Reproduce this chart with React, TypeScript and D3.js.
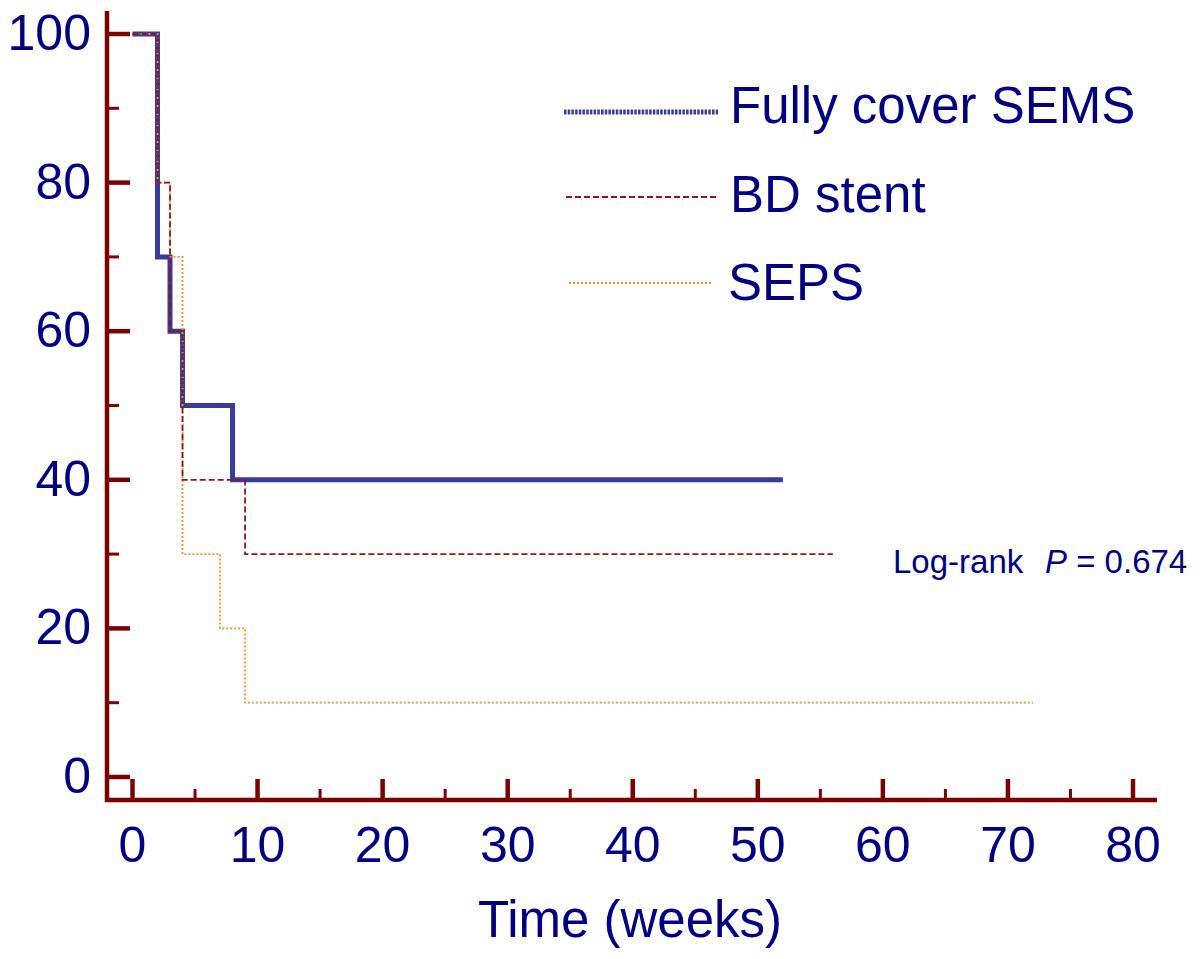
import React from "react";
import * as d3 from "d3";

const xTicksMajor = [0, 10, 20, 30, 40, 50, 60, 70, 80];
const xTicksMinor = [5, 15, 25, 35, 45, 55, 65, 75];
const yTicksMajor = [0, 20, 40, 60, 80, 100];
const yTicksMinor = [10, 30, 50, 70, 90];

const semsTimes = [0, 2, 3, 4, 8, 52];
const semsSurv = [100, 70, 60, 50, 40, 40];
const bdTimes = [0, 2, 3, 4, 9, 56];
const bdSurv = [100, 80, 60, 40, 30, 30];
const sepsTimes = [0, 2, 3, 4, 7, 9, 72];
const sepsSurv = [100, 80, 70, 30, 20, 10, 10];

const seriesNames = ["Fully cover SEMS", "BD stent", "SEPS"];

const AXIS = "#7b0000";
const NAVY = "#000080";
const BLUE = "#3a3a9a";
const MAROON = "#8b1a1a";
const ORANGE = "#f39030";
const FONT = "'Liberation Sans', Arial, sans-serif";

export default function App() {
  const x = d3.scaleLinear().domain([0, 80]).range([132.5, 1133]);
  const y = d3.scaleLinear().domain([0, 100]).range([777, 34]);
  const line = d3
    .line<[number, number]>()
    .x((d) => x(d[0]))
    .y((d) => y(d[1]))
    .curve(d3.curveStepAfter);
  const pts = (t: number[], s: number[]) => t.map((v, i) => [v, s[i]] as [number, number]);

  const axisY = 800;
  const axisX = 107;

  return (
    <svg
      width={1200}
      height={959}
      style={{ position: "absolute", left: 0, top: 0, background: "#fff" }}
      fontFamily={FONT}
    >
      <rect width={1200} height={959} fill="#fff" />
      {/* curves */}
      <path d={line(pts(semsTimes, semsSurv)) || ""} fill="none" stroke={BLUE} strokeWidth={5} />
      <path d={line(pts(sepsTimes, sepsSurv)) || ""} fill="none" stroke={ORANGE} strokeWidth={1.8} strokeDasharray="2,2" />
      <path d={line(pts(bdTimes, bdSurv)) || ""} fill="none" stroke={MAROON} strokeWidth={1.8} strokeDasharray="6,3" />

      {/* axes */}
      <line x1={axisX} x2={axisX} y1={11} y2={axisY + 2} stroke={AXIS} strokeWidth={4.5} />
      <line x1={axisX - 2} x2={1157} y1={axisY} y2={axisY} stroke={AXIS} strokeWidth={4.5} />
      {yTicksMajor.map((t) => (
        <g key={"ym" + t}>
          <line x1={axisX} x2={axisX + 23} y1={y(t)} y2={y(t)} stroke={AXIS} strokeWidth={4.5} />
          <text x={91} y={y(t) + 16} textAnchor="end" fontSize={50} fill={NAVY}>
            {t}
          </text>
        </g>
      ))}
      {yTicksMinor.map((t) => (
        <line key={"yn" + t} x1={axisX} x2={axisX + 12} y1={y(t)} y2={y(t)} stroke={AXIS} strokeWidth={3} />
      ))}
      {xTicksMajor.map((t) => (
        <g key={"xm" + t}>
          <line x1={x(t)} x2={x(t)} y1={axisY} y2={axisY - 21} stroke={AXIS} strokeWidth={4.5} />
          <text x={x(t)} y={862} textAnchor="middle" fontSize={50} fill={NAVY}>
            {t}
          </text>
        </g>
      ))}
      {xTicksMinor.map((t) => (
        <line key={"xn" + t} x1={x(t)} x2={x(t)} y1={axisY} y2={axisY - 11} stroke={AXIS} strokeWidth={3} />
      ))}
      <text x={630} y={937} textAnchor="middle" fontSize={51} fill={NAVY}>
        Time (weeks)
      </text>

      {/* legend */}
      <line x1={564} x2={718} y1={112} y2={112} stroke={BLUE} strokeWidth={5} strokeDasharray="2.5,1.2" />
      <line x1={566} x2={716} y1={197} y2={197} stroke={MAROON} strokeWidth={1.8} strokeDasharray="6,3" />
      <line x1={569} x2={711} y1={283} y2={283} stroke={ORANGE} strokeWidth={1.8} strokeDasharray="2,2" />
      <text x={730} y={123} fontSize={51} fill={NAVY}>{seriesNames[0]}</text>
      <text x={730} y={212} fontSize={51} fill={NAVY}>{seriesNames[1]}</text>
      <text x={728} y={300} fontSize={51} fill={NAVY}>{seriesNames[2]}</text>

      <text x={893} y={573} fontSize={33} fill={NAVY}>
        Log-rank
        <tspan x={1045} fontStyle="italic">P</tspan>
        <tspan> = 0.674</tspan>
      </text>
    </svg>
  );
}
